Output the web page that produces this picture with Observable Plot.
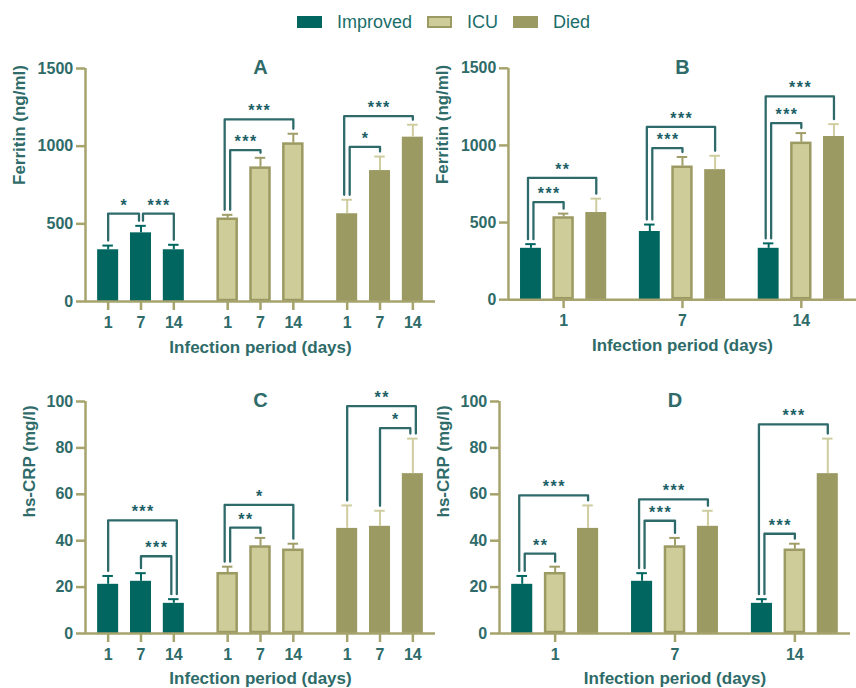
<!DOCTYPE html>
<html><head><meta charset="utf-8">
<script src="https://cdn.jsdelivr.net/npm/d3@7"></script>
<script src="https://cdn.jsdelivr.net/npm/@observablehq/plot@0.6"></script>
<style>
html,body{margin:0;padding:0;background:#fff;overflow:hidden;}
#root{position:relative;width:856px;height:688px;overflow:hidden;font-family:"Liberation Sans",Arial,sans-serif;}
.panel{position:absolute;}
.panel svg{overflow:visible;background:transparent;}
g[fill="#1d5f66"] text{letter-spacing:1.5px;}
#legend{position:absolute;left:297px;top:11px;display:flex;align-items:center;font-size:18px;color:#1a6d69;}
.sw{width:25px;height:12px;box-sizing:border-box;margin-right:15px;}
.lab{margin-right:15px;line-height:22px;}
</style></head><body>
<div id="root"><div id="legend"></div></div>
<script>
// ---------- data ----------
const groups = ["Improved", "ICU", "Died"];
const days = ["1", "7", "14"];
// [group][day]
const ferritinMean = [[333, 442, 333], [536, 865, 1020], [565, 843, 1058]];
const ferritinErr  = [[27, 45, 32], [22, 60, 60], [90, 90, 80]];
const crpMean = [[21.2, 22.5, 13.0], [26.2, 37.7, 36.3], [45.3, 46.2, 68.9]];
const crpErr  = [[3.6, 3.5, 1.8], [2.6, 3.5, 2.4], [9.9, 6.7, 15.1]];
const ferritinTicks = [0, 500, 1000, 1500];
const crpTicks = [0, 20, 40, 60, 80, 100];
// significance brackets: [outer cluster, from bar, to bar, bracket height, label]
const bracketsA = [[0,0,1,566,"*"],[0,1,2,566,"***"],[1,0,1,975,"***"],[1,0,2,1172,"***"],[2,0,1,995,"*"],[2,0,2,1193,"***"]];
const bracketsB = [[0,0,1,633,"***"],[0,0,2,790,"**"],[1,0,1,983,"***"],[1,0,2,1120,"***"],[2,0,1,1144,"***"],[2,0,2,1318,"***"]];
const bracketsC = [[0,0,2,48.8,"***"],[0,1,2,33.3,"***"],[1,0,1,45.6,"**"],[1,0,2,55.4,"*"],[2,1,2,88.5,"*"],[2,0,2,98,"**"]];
const bracketsD = [[0,0,1,34.4,"**"],[0,0,2,59.5,"***"],[1,0,1,48.6,"***"],[1,0,2,57.8,"***"],[2,0,1,43.0,"***"],[2,0,2,90.1,"***"]];

// ---------- styles ----------
const fillC = ["#00665f", "#cecd99", "#9c9a63"];
const strokeC = ["#00665f", "#9c9a63", "#9c9a63"];
const errC = ["#00665f", "#a09d67", "#cfcd9f"];
const axisC = "#a6a36d";
const textC = "#2e6b69";
const brC = "#2f6a6a";
const starC = "#1d5f66";
const FONT = '"Liberation Sans", Arial, sans-serif';

// legend
const legend = document.getElementById("legend");
groups.forEach((g, i) => {
  const sw = document.createElement("div");
  sw.className = "sw";
  sw.style.background = fillC[i];
  if (i === 1) sw.style.border = "2px solid " + strokeC[i];
  const lab = document.createElement("div");
  lab.className = "lab";
  lab.textContent = g;
  legend.appendChild(sw); legend.appendChild(lab);
});

function panel(o) {
  const G = 3.64, pad = 0.69;
  const xDomain = [-pad, 2 * G + 2 + pad];
  const pw = o.width - o.ml - o.mr, ph = o.height - o.mt - o.mb;
  const uPerPx = (xDomain[1] - xDomain[0]) / pw;
  const yPerPx = o.yMax / ph;
  const pos = (outer, inner) => outer * G + inner;
  const bars = [];
  for (let g = 0; g < 3; g++) for (let d = 0; d < 3; d++) {
    const outer = o.byGroup ? g : d, inner = o.byGroup ? d : g;
    bars.push({g, d, x: pos(outer, inner), mean: o.means[g][d], err: o.errs[g][d]});
  }
  const bw = 0.32, cw = 0.16;
  const lines = [], labels = [];
  o.brackets.forEach((b, k) => {
    const [oc, from, to, topV, lab] = b;
    const val = i => { const g = o.byGroup ? oc : i, d = o.byGroup ? i : oc; return o.means[g][d] + o.errs[g][d]; };
    const offset = (bar, side) => {
      let off = 0;
      o.brackets.forEach((c, j) => {
        if (j === k || c[0] !== oc) return;
        if (c[1] === bar || c[2] === bar) {
          const cside = c[1] === bar ? -1 : 1;
          if (cside === side) off = topV > c[3] ? side * 3 : -side * 2.5;
          else off = -side * 2;
        }
      });
      return off * uPerPx;
    };
    const xl = pos(oc, from) + offset(from, -1), xr = pos(oc, to) + offset(to, 1);
    const yl = val(from) + 5 * yPerPx, yr = val(to) + 5 * yPerPx;
    [[xl, yl], [xl, topV], [xr, topV], [xr, yr]].forEach(p => lines.push({id: k, x: p[0], y: p[1]}));
    labels.push({x: (xl + xr) / 2, y: topV, text: lab});
  });
  const xt = o.byGroup ? bars.map(b => ({x: b.x, label: days[b.d]}))
                       : days.map((d, i) => ({x: pos(i, 1), label: d}));
  const tmap = new Map(xt.map(t => [t.x, t.label]));

  const marks = [];
  for (let g = 0; g < 3; g++) {
    const bg = bars.filter(b => b.g === g);
    marks.push(Plot.rectY(bg, {x1: d => d.x - bw, x2: d => d.x + bw, y1: 0, y2: "mean",
      fill: fillC[g], stroke: g === 1 ? strokeC[g] : "none", strokeWidth: 2.5, inset: g === 1 ? 1 : 0}));
  }
  marks.push(Plot.ruleY([0], {stroke: axisC, strokeWidth: 2.5}));
  marks.push(Plot.ruleX([xDomain[0]], {y1: 0, y2: o.yMax, stroke: axisC, strokeWidth: 2.5}));
  for (let g = 0; g < 3; g++) {
    const bg = bars.filter(b => b.g === g);
    marks.push(Plot.ruleX(bg, {x: "x", y1: "mean", y2: d => d.mean + d.err, stroke: errC[g], strokeWidth: 2}));
    marks.push(Plot.ruleY(bg, {y: d => d.mean + d.err, x1: d => d.x - cw, x2: d => d.x + cw, stroke: errC[g], strokeWidth: 2}));
  }
  marks.push(Plot.line(lines, {x: "x", y: "y", z: "id", stroke: brC, strokeWidth: 2.3, strokeLinejoin: "round"}));
  marks.push(Plot.text(labels, {x: "x", y: "y", text: "text", lineAnchor: "bottom", dy: -3, dx: 0.75, fontSize: 16, fontWeight: "bold", fill: starC}));
  marks.push(Plot.axisY({ticks: o.ticks, tickFormat: d => String(d), tickSize: 9, tickPadding: 3.3, stroke: axisC, strokeWidth: 2.5,
    fill: textC, fontSize: 16, fontWeight: "bold", label: null}));
  marks.push(Plot.axisX({ticks: xt.map(t => t.x), tickFormat: v => tmap.get(v), tickSize: 9, tickPadding: 6.5, stroke: axisC, strokeWidth: 2.5,
    fill: textC, fontSize: 16, fontWeight: "bold", label: null}));
  marks.push(Plot.text([o.title], {text: d => d, frameAnchor: "top", lineAnchor: "middle", dy: -1, fontSize: 20, fontWeight: "bold", fill: textC}));
  marks.push(Plot.text([o.ylabel], {text: d => d, frameAnchor: "left", rotate: -90, dx: o.ylDx, lineAnchor: "middle", fontSize: 17, fontWeight: "bold", fill: textC}));
  marks.push(Plot.text(["Infection period (days)"], {text: d => d, frameAnchor: "bottom", lineAnchor: "middle", dy: o.xlDy, fontSize: 17, fontWeight: "bold", fill: textC}));

  const chart = Plot.plot({
    width: o.width, height: o.height,
    marginLeft: o.ml, marginRight: o.mr, marginTop: o.mt, marginBottom: o.mb,
    x: {type: "linear", domain: xDomain},
    y: {domain: [0, o.yMax]},
    style: {fontFamily: FONT, fontSize: "16px", fontWeight: "bold", color: textC, background: "transparent", overflow: "visible"},
    marks
  });
  const div = document.createElement("div");
  div.className = "panel";
  div.style.left = o.left + "px";
  div.style.top = o.top + "px";
  div.appendChild(chart);
  document.getElementById("root").appendChild(div);
}

panel({title: "A", ylabel: "Ferritin (ng/ml)", means: ferritinMean, errs: ferritinErr, ticks: ferritinTicks, yMax: 1500,
  brackets: bracketsA, byGroup: true, left: 0, top: 40, width: 436, height: 320, ml: 85, mr: 1, mt: 28, mb: 59, ylDx: -66, xlDy: 46});
panel({title: "B", ylabel: "Ferritin (ng/ml)", means: ferritinMean, errs: ferritinErr, ticks: ferritinTicks, yMax: 1500,
  brackets: bracketsB, byGroup: false, left: 428, top: 40, width: 431, height: 320, ml: 80.5, mr: 0, mt: 28, mb: 59, ylDx: -66, xlDy: 46});
panel({title: "C", ylabel: "hs-CRP (mg/l)", means: crpMean, errs: crpErr, ticks: crpTicks, yMax: 100,
  brackets: bracketsC, byGroup: true, left: 0, top: 370, width: 436, height: 318, ml: 85, mr: 1, mt: 31, mb: 55, ylDx: -56, xlDy: 45});
panel({title: "D", ylabel: "hs-CRP (mg/l)", means: crpMean, errs: crpErr, ticks: crpTicks, yMax: 100,
  brackets: bracketsD, byGroup: false, left: 428, top: 370, width: 428, height: 318, ml: 71, mr: 6, mt: 31, mb: 55, ylDx: -56, xlDy: 45});
</script>
</body></html>
